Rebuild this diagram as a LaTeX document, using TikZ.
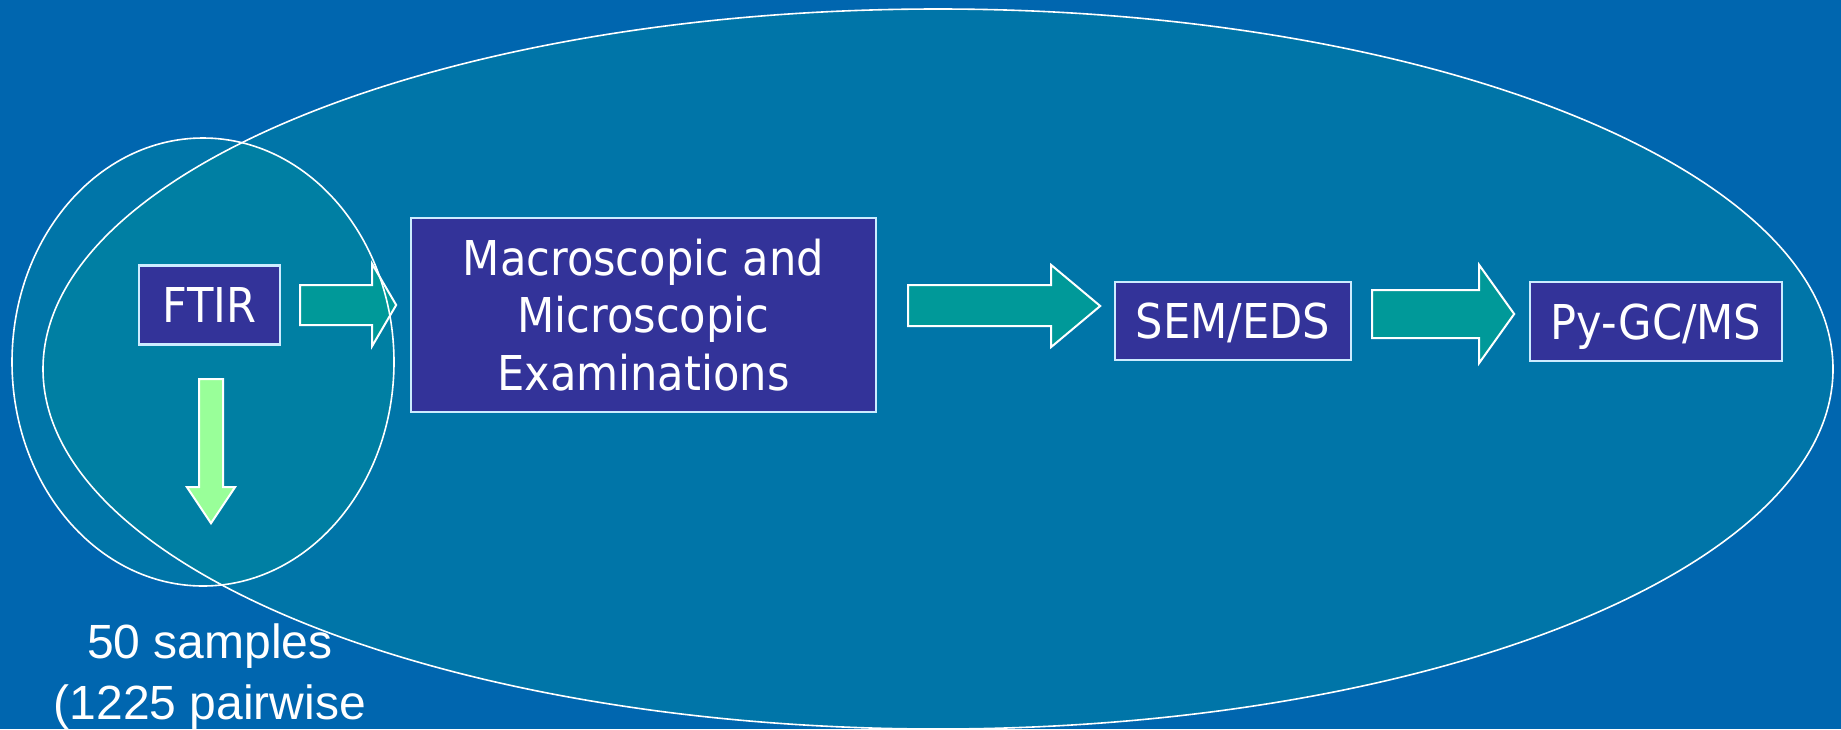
\documentclass[tikz,border=0pt]{standalone}
\usepackage{fontspec}
\setmainfont{Liberation Sans}
\newfontfamily\boxfont{DejaVu Sans Condensed}
\usepackage{tikz}
\usetikzlibrary{calc}

\definecolor{slideblue}{RGB}{0,102,175}
\definecolor{ovalteal}{RGB}{0,153,153}
\definecolor{boxblue}{RGB}{51,51,153}
\definecolor{boxline}{RGB}{204,236,255}
\definecolor{arrowteal}{RGB}{0,153,153}
\definecolor{arrowgreen}{RGB}{153,255,153}

\tikzset{
  stepbox/.style={draw=boxline, line width=1.2pt, fill=boxblue, text=white, inner sep=0pt,
    align=center, font=\boxfont\fontsize{24}{28.8}\selectfont},
  oneline/.style={text height=17.5pt, text depth=0pt},
  oval/.style={draw=white, line width=0.8pt},
  blockarrow/.style={draw=white, line width=1pt, fill=arrowteal, line join=miter},
}

\begin{document}
\begin{tikzpicture}[x=0.5pt, y=-0.5pt]
\useasboundingbox (0,0) rectangle (1841,729);
\fill[slideblue] (0,0) rectangle (1841,729);
%
\fill[ovalteal, fill opacity=0.3] (938,369) ellipse [x radius=895, y radius=360];
\fill[ovalteal, fill opacity=0.3] (203,362) ellipse [x radius=191, y radius=224];
%
\node[stepbox, oneline, minimum width=70.5pt, minimum height=39.5pt] (ftir) at (209.5,305) {FTIR};
\node[stepbox, minimum width=232.5pt, minimum height=97pt] (macro) at (643.5,315) {Macroscopic and\\Microscopic\\Examinations};
\node[stepbox, oneline, minimum width=118pt, minimum height=39pt] (sem) at (1233,321) {SEM/EDS};
\node[stepbox, oneline, minimum width=126pt, minimum height=39.5pt] (pygc) at (1656,321.5) {Py-GC/MS};
%
\draw[blockarrow] ($(ftir.east)+(19,-20)$) -- ++(72,0) -- ++(0,-21) -- ++(24,41) -- ++(-24,41) -- ++(0,-21) -- ++(-72,0) -- cycle;
\draw[blockarrow] ($(macro.east)+(31,-30)$) -- ++(143,0) -- ++(0,-20) -- ++(49,41) -- ++(-49,41) -- ++(0,-21) -- ++(-143,0) -- cycle;
\draw[blockarrow] ($(sem.east)+(20,-31)$) -- ++(107,0) -- ++(0,-25) -- ++(35,49) -- ++(-35,49) -- ++(0,-25) -- ++(-107,0) -- cycle;
\draw[blockarrow, fill=arrowgreen] ($(ftir.south)+(-10.5,33.5)$) -- ++(24,0) -- ++(0,108) -- ++(12,0) -- ++(-24,36) -- ++(-24,-36) -- ++(12,0) -- cycle;
%
\node[text=white, inner sep=0pt, align=center, anchor=north, font=\fontsize{24}{30.5}\selectfont] (samples) at (210,623) {50 samples\\(1225 pairwise};
%
\draw[oval] (938,369) ellipse [x radius=895, y radius=360];
\draw[oval] (203,362) ellipse [x radius=191, y radius=224];
\end{tikzpicture}
\end{document}
